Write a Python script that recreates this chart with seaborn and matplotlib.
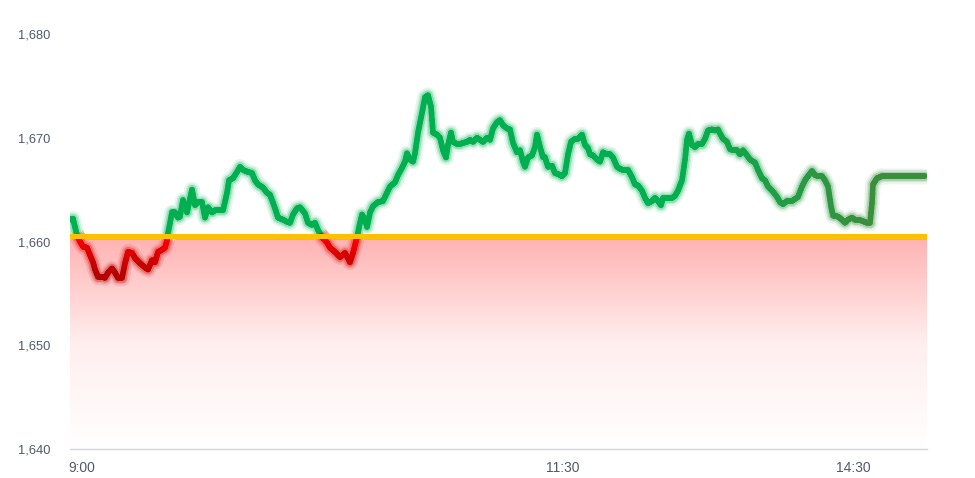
import numpy as np
import pandas as pd
import matplotlib
matplotlib.use("Agg")
import matplotlib.pyplot as plt
import seaborn as sns
from matplotlib.collections import LineCollection
from matplotlib.colors import LinearSegmentedColormap, to_rgb

# ---------------- data ----------------
tick_time = [0, 3, 7, 10, 13, 17, 20, 23, 25, 28, 32, 35, 38, 42, 45, 48, 52, 55, 58, 62,
             65, 70, 75, 78, 82, 85, 88, 92, 95, 97, 98, 102, 105, 108, 110, 113, 117, 122,
             125, 128, 132, 135, 138, 142, 145, 150, 153, 157, 159, 163, 167, 170, 173, 178,
             182, 185, 188, 193, 197, 200, 202, 205, 208, 213, 217, 220, 223, 227, 230, 235,
             238, 242, 245, 248, 252, 257, 260, 265, 270, 275, 280, 283, 287, 290, 292, 295,
             297, 300, 303, 308, 313, 317, 320, 325, 328, 332, 335, 337, 340, 343, 345, 348,
             352, 355, 358, 361, 363, 367, 370, 373, 376, 378, 381, 383, 387, 390, 393, 397,
             400, 403, 407, 410, 413, 417, 420, 423, 427, 430, 433, 437, 440, 443, 447, 450,
             453, 455, 458, 462, 465, 467, 470, 473, 475, 478, 482, 485, 488, 492, 495, 498,
             501, 505, 508, 512, 515, 518, 520, 523, 527, 530, 533, 537, 540, 543, 547, 550,
             553, 558, 562, 565, 568, 572, 575, 578, 582, 585, 588, 591, 593, 597, 602, 605,
             608, 612, 615, 617, 619, 622, 625, 628, 632, 635, 638, 642, 645, 648, 650, 653,
             657, 660, 663, 667, 670, 673, 677, 680, 685, 688, 692, 695, 698, 703, 707, 710,
             713, 717, 722, 725, 728, 732, 735, 738, 742, 745, 748, 752, 755, 758, 761, 763,
             768, 772, 775, 778, 782, 785, 788, 792, 797, 800, 802, 803, 807, 812, 855]
price = [1662.1, 1662.2, 1660.6, 1660.0, 1659.5, 1659.4, 1658.7, 1658.0, 1657.3, 1656.6,
         1656.6, 1656.5, 1657.0, 1657.4, 1657.0, 1656.5, 1656.5, 1657.9, 1659.0, 1658.9,
         1658.4, 1657.9, 1657.5, 1657.3, 1658.2, 1658.0, 1659.0, 1659.2, 1659.4, 1660.1,
         1660.8, 1662.8, 1662.8, 1662.3, 1662.4, 1664.0, 1662.8, 1665.0, 1663.5, 1663.8,
         1663.8, 1662.3, 1663.3, 1662.8, 1663.0, 1663.0, 1663.0, 1664.7, 1665.9, 1666.1,
         1666.7, 1667.2, 1666.9, 1666.7, 1666.6, 1665.9, 1665.5, 1665.2, 1664.7, 1664.5,
         1664.0, 1663.2, 1662.3, 1662.1, 1661.9, 1661.8, 1662.6, 1663.2, 1663.3, 1662.7,
         1661.8, 1661.6, 1661.8, 1661.1, 1660.4, 1659.9, 1659.4, 1659.0, 1658.5, 1658.9,
         1658.0, 1658.9, 1660.4, 1661.8, 1662.6, 1662.1, 1661.4, 1662.8, 1663.4, 1663.8,
         1663.9, 1664.7, 1665.3, 1665.7, 1666.4, 1667.1, 1667.7, 1668.5, 1667.9, 1667.7,
         1668.5, 1670.5, 1672.4, 1673.9, 1674.1, 1673.0, 1670.5, 1670.3, 1670.0, 1668.8,
         1668.1, 1669.3, 1670.5, 1669.6, 1669.4, 1669.4, 1669.5, 1669.6, 1669.8, 1669.6,
         1670.0, 1669.8, 1669.6, 1670.0, 1669.8, 1670.9, 1671.5, 1671.7, 1671.2, 1670.9,
         1670.8, 1669.5, 1668.6, 1668.8, 1667.7, 1667.2, 1668.1, 1668.3, 1669.1, 1670.3,
         1669.1, 1668.1, 1668.1, 1667.2, 1667.3, 1666.6, 1666.5, 1666.3, 1666.6, 1668.4,
         1669.6, 1669.9, 1669.9, 1670.3, 1669.3, 1669.0, 1668.4, 1668.3, 1667.9, 1667.7,
         1668.6, 1668.4, 1668.4, 1668.1, 1667.2, 1667.0, 1666.9, 1666.9, 1666.2, 1665.5,
         1665.4, 1664.9, 1664.2, 1663.7, 1663.9, 1664.2, 1663.9, 1663.5, 1664.2, 1664.2,
         1664.2, 1664.4, 1664.9, 1665.9, 1667.9, 1669.8, 1670.4, 1669.3, 1669.1, 1669.4,
         1669.4, 1669.9, 1670.7, 1670.8, 1670.7, 1670.8, 1670.4, 1669.9, 1669.6, 1668.9,
         1668.8, 1668.8, 1668.4, 1668.8, 1668.3, 1667.9, 1667.6, 1666.9, 1666.1, 1665.9,
         1665.3, 1664.8, 1664.3, 1663.8, 1663.6, 1663.9, 1663.9, 1664.1, 1664.3, 1665.3,
         1665.9, 1666.3, 1666.8, 1666.4, 1666.3, 1666.3, 1665.9, 1665.3, 1663.4, 1662.5,
         1662.4, 1662.1, 1661.8, 1662.1, 1662.3, 1662.1, 1662.1, 1662.0, 1661.8, 1661.8,
         1663.7, 1665.5, 1666.1, 1666.3, 1666.3]
ref_price = 1660.55
y_ticks = [1640, 1650, 1660, 1670, 1680]
x_tick_pos = [12, 493, 783]
x_tick_labels = ["9:00", "11:30", "14:30"]

df = pd.DataFrame({"t": tick_time, "price": price})

# ---------------- style ----------------
sns.set_theme(style="white")
plt.rcParams["font.family"] = ["Liberation Sans", "DejaVu Sans"]
text_color = "#4f5b6d"

fig = plt.figure(figsize=(9.75, 4.78), dpi=100)
ax = fig.add_axes([70 / 975, 29 / 478, 857 / 975, 415 / 478])

x_end = 857
y_lo, y_hi = 1640, 1680

# gradient red fill below the reference line
grad = np.linspace(0, 1, 256).reshape(-1, 1)
fill_cmap = LinearSegmentedColormap.from_list("fill", ["#ffffff", "#ffeeee", "#ffb2b2"])
fill_top = ref_price - 0.12
ax.imshow(grad, extent=[0, x_end, y_lo, fill_top], origin="lower",
          aspect="auto", cmap=fill_cmap, zorder=1, interpolation="bilinear")
ax.axhline(ref_price - 0.17, color="#ff3b2f", lw=1.0, zorder=2)

# base line through seaborn
sns.lineplot(data=df, x="t", y="price", ax=ax, color="#00b050", lw=4.0, zorder=3,
             estimator=None, sort=False)

# colour the line by position relative to the reference
tt = np.arange(0, df["t"].iloc[-1] + 0.01, 0.5)
pp = np.interp(tt, df["t"], df["price"])
pts = np.column_stack([tt, pp])
segs = np.stack([pts[:-1], pts[1:]], axis=1)
mid_t = (tt[:-1] + tt[1:]) / 2
mid_p = (pp[:-1] + pp[1:]) / 2

g1 = np.array(to_rgb("#00b050"))
g2 = np.array(to_rgb("#3a8f3c"))
r1 = np.array(to_rgb("#ff0000"))
r2 = np.array(to_rgb("#b40000"))
white = np.array([1.0, 1.0, 1.0])

cols, bases = [], []
for t, p in zip(mid_t, mid_p):
    if p >= ref_price:
        f = np.clip((t - 600) / 200, 0, 1)
        c = g1 * (1 - f) + g2 * f
        b = white
    else:
        f = np.clip((ref_price - p) / 3.8, 0, 1)
        c = r1 * (1 - f) + r2 * f
        b = np.array(fill_cmap((p - y_lo) / (fill_top - y_lo))[:3])
    cols.append(c)
    bases.append(b)
cols = np.array(cols)
bases = np.array(bases)

for lw, k, z in [(11.0, 0.10, 3.1), (8.5, 0.22, 3.2), (6.5, 0.42, 3.3)]:
    ax.add_collection(LineCollection(segs, colors=cols * k + bases * (1 - k),
                                     linewidths=lw, capstyle="round", zorder=z))
ax.add_collection(LineCollection(segs, colors=cols, linewidths=4.0,
                                 capstyle="round", zorder=4))

# reference line drawn over the price line
ax.axhline(ref_price, color="#ffc000", lw=3.6, zorder=5)

# axes styling
ax.set_xlim(0, x_end)
ax.set_ylim(y_lo, y_hi)
ax.set_yticks(y_ticks)
ax.set_yticklabels([f"{v:,}" for v in y_ticks])
ax.set_xticks(x_tick_pos)
ax.set_xticklabels(x_tick_labels)
ax.set_xlabel("")
ax.set_ylabel("")
ax.tick_params(axis="y", length=0, pad=14, labelsize=9.3, labelcolor=text_color)
ax.tick_params(axis="x", length=0, pad=9, labelsize=10, labelcolor=text_color)
for s in ["top", "right", "left"]:
    ax.spines[s].set_visible(False)
ax.spines["bottom"].set_color("#d6d6d6")
ax.spines["bottom"].set_linewidth(1.0)
ax.grid(False)
ax.set_facecolor("white")
fig.patch.set_facecolor("white")

fig.savefig("out.png", dpi=100)
